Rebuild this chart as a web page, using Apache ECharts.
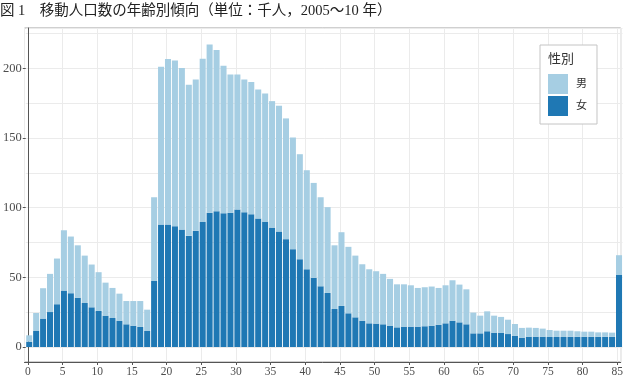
<!DOCTYPE html>
<html>
<head>
<meta charset="utf-8">
<script src="https://cdn.jsdelivr.net/npm/echarts@6/dist/echarts.min.js"></script>
<style>
  html, body { margin: 0; padding: 0; background: #fff; }
  #main { width: 626px; height: 385px; }
</style>
</head>
<body>
<div id="main"></div>
<script>
// 年齢 0〜85（85 は 85 歳以上）
var ages = [];
for (var a = 0; a <= 85; a++) ages.push(String(a));

// 女（千人）
var female = [
  3.8, 11.5, 20.4, 25.1, 30.7, 40.5, 38.6, 35.4, 31.6, 28.5,
  25.9, 22.5, 20.8, 18.9, 16.3, 15.3, 14.4, 11.5, 47.4, 87.9,
  87.9, 86.7, 84.3, 79.8, 83.4, 89.8, 96.3, 97.5, 96.0, 96.3,
  98.7, 96.8, 95.3, 92.2, 90.0, 85.7, 82.9, 77.4, 70.2, 63.0,
  55.8, 49.6, 43.6, 38.8, 27.3, 29.5, 24.2, 21.3, 18.9, 17.0,
  16.8, 16.3, 15.1, 14.1, 14.6, 14.6, 14.6, 14.9, 15.3, 16.0,
  17.0, 18.9, 17.7, 16.3, 9.8, 9.8, 11.3, 10.3, 10.3, 9.3,
  8.1, 6.7, 7.4, 7.4, 7.4, 7.2, 7.2, 7.2, 7.3, 7.3,
  7.3, 7.3, 7.3, 7.3, 7.3, 51.7
];

// 男（千人）
var male = [
  4.6, 12.9, 21.8, 27.4, 32.8, 43.3, 40.7, 37.6, 34.0, 30.7,
  27.8, 23.7, 21.6, 19.4, 16.7, 17.7, 18.6, 15.3, 60.1, 113.3,
  118.8, 119.0, 115.9, 108.5, 108.7, 117.1, 120.9, 115.7, 105.9, 99.4,
  97.0, 95.3, 94.9, 92.7, 92.0, 90.8, 90.3, 86.7, 80.2, 75.4,
  71.1, 68.2, 63.9, 61.6, 45.7, 52.9, 47.7, 44.3, 40.5, 38.8,
  37.6, 36.2, 33.8, 30.9, 30.4, 29.7, 27.8, 28.0, 28.1, 26.4,
  27.3, 29.0, 27.1, 25.1, 14.9, 12.7, 14.3, 12.2, 11.3, 10.3,
  8.4, 7.0, 6.5, 6.3, 5.8, 5.0, 4.5, 4.5, 4.4, 4.0,
  3.7, 3.7, 3.2, 3.2, 3.0, 14.2
];

var serif = "'Liberation Serif', 'Noto Sans CJK JP', serif";
var chart = echarts.init(document.getElementById('main'), null, { renderer: 'canvas' });

var option = {
  animation: false,
  title: {
    text: '図 1　移動人口数の年齢別傾向（単位：千人，2005〜10 年）',
    left: 0,
    top: 4,
    padding: 0,
    textStyle: { fontFamily: serif, fontSize: 14.5, fontWeight: 'normal', color: '#222' }
  },
  legend: {
    data: ['男', '女'],
    orient: 'vertical',
    left: 540,
    top: 45,
    padding: [29, 10, 8, 8],
    itemWidth: 20,
    itemHeight: 20,
    itemGap: 2,
    icon: 'rect',
    backgroundColor: '#fff',
    borderColor: '#c4c4c4',
    borderWidth: 1,
    textStyle: { fontFamily: serif, fontSize: 11, color: '#333', padding: [0, 0, 0, 3] }
  },
  graphic: [{
    type: 'text',
    left: 548,
    top: 53,
    z: 100,
    style: { text: '性別', fontFamily: serif, fontSize: 13, fill: '#333' }
  }],
  grid: [
    // パネル全体（枠と x 軸）
    { left: 24.5, right: 3.5, top: 28, bottom: 23, show: true, borderColor: '#a0a0a0', borderWidth: 1, backgroundColor: '#fff' },
    // 棒の描画領域（0 から上）
    { left: 24.5, right: 3.5, top: 28, bottom: 38 }
  ],
  xAxis: [
    {
      gridIndex: 0,
      type: 'value',
      min: -0.5,
      max: 85.5,
      splitNumber: 17,
      axisLine: { show: true, lineStyle: { color: '#555', width: 1 } },
      axisTick: { show: true, length: 3, lineStyle: { color: '#555' } },
      axisLabel: {
        fontFamily: serif, fontSize: 11.5, color: '#4d4d4d', margin: 4,
        showMinLabel: false, showMaxLabel: false,
        formatter: function (v) { return (v % 5 === 0) ? String(v) : ''; }
      },
      splitLine: { show: true, lineStyle: { color: '#ebebeb', width: 1 } }
    },
    {
      gridIndex: 1,
      type: 'category',
      data: ages,
      boundaryGap: true,
      axisLine: { show: false },
      axisTick: { show: false },
      axisLabel: { show: false },
      splitLine: { show: false }
    }
  ],
  yAxis: [
    {
      gridIndex: 0,
      type: 'value',
      min: 0,
      max: 1,
      axisLine: { show: true, lineStyle: { color: '#555', width: 1 } },
      axisTick: { show: false },
      axisLabel: { show: false },
      splitLine: { show: false }
    },
    {
      // 目盛線（25 ごと）
      gridIndex: 1,
      type: 'value',
      min: 0,
      max: 229,
      interval: 25,
      axisLine: { show: false },
      axisTick: { show: false },
      axisLabel: { show: false },
      splitLine: { show: true, lineStyle: { color: '#ebebeb', width: 1 } }
    },
    {
      // ラベル（50 ごと）
      gridIndex: 1,
      type: 'value',
      position: 'left',
      min: 0,
      max: 229,
      interval: 50,
      axisLine: { show: false },
      axisTick: { show: true, length: 3, lineStyle: { color: '#555' } },
      axisLabel: {
        fontFamily: serif, fontSize: 12.5, color: '#4d4d4d', margin: 4,
        showMaxLabel: false,
        formatter: function (v) { return (v % 50 === 0) ? String(v) : ''; }
      },
      splitLine: { show: false }
    }
  ],
  series: [
    {
      name: '女',
      type: 'bar',
      xAxisIndex: 1,
      yAxisIndex: 2,
      stack: 'total',
      barWidth: '87%',
      itemStyle: { color: '#1f78b4' },
      data: female
    },
    {
      name: '男',
      type: 'bar',
      xAxisIndex: 1,
      yAxisIndex: 2,
      stack: 'total',
      barWidth: '87%',
      itemStyle: { color: '#a6cee3' },
      data: male
    }
  ]
};

chart.setOption(option);
</script>
</body>
</html>
